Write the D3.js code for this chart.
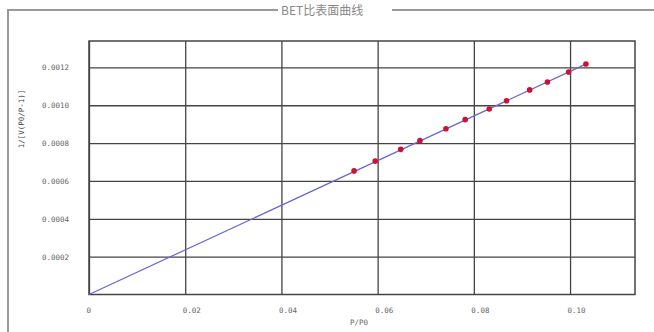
<!DOCTYPE html>
<html>
<head>
<meta charset="utf-8">
<script src="https://cdn.jsdelivr.net/npm/d3@7"></script>
<style>
  body { margin: 0; background: #fff; }
  svg { display: block; }
</style>
</head>
<body>
<script>
// measured points (P/P0 vs 1/[V(P0/P-1)])
var pRatio = [0.0551, 0.0595, 0.0648, 0.0688, 0.0742, 0.0782, 0.0832, 0.0868, 0.0916, 0.0953, 0.0997, 0.1033];
var betValue = [0.000653, 0.000705, 0.000767, 0.000813, 0.000876, 0.000924, 0.000980, 0.001024, 0.001081, 0.001123, 0.001176, 0.001218];

// fitted line end points
var fitX = [0, 0.1035];
var fitY = [0, 0.00122];

var xTicks = [0, 0.02, 0.04, 0.06, 0.08, 0.10];
var xTickLabels = ['0', '0.02', '0.04', '0.06', '0.08', '0.10'];
var yTicks = [0.0002, 0.0004, 0.0006, 0.0008, 0.0010, 0.0012];
var yTickLabels = ['0.0002', '0.0004', '0.0006', '0.0008', '0.0010', '0.0012'];

var title = 'BET比表面曲线';
var xTitle = 'P/P0';
var yTitle = '1/[V(P0/P-1)]';

var W = 654, H = 332;
var margin = {left: 89, top: 41, right: 19, bottom: 37.5};
var pw = W - margin.left - margin.right;
var ph = H - margin.top - margin.bottom;

var svg = d3.select('body').append('svg').attr('width', W).attr('height', H);

// group box frame
svg.append('path')
   .attr('d', 'M8,' + H + 'V10H278M392,10H' + W)
   .attr('fill', 'none')
   .attr('stroke', '#999')
   .attr('stroke-width', 2);

svg.append('text')
   .attr('x', 281).attr('y', 15)
   .attr('font-family', 'Noto Sans CJK SC')
   .attr('font-size', 12)
   .attr('fill', '#888')
   .text(title);

var g = svg.append('g').attr('transform', 'translate(' + margin.left + ',' + margin.top + ')');

var x = d3.scaleLinear().domain([0, 0.1135]).range([0, pw]);
var y = d3.scaleLinear().domain([0, 0.0013395]).range([ph, 0]);

var tickFont = 'DejaVu Sans Mono';

// vertical grid + bottom labels
var xAxis = g.append('g')
   .attr('transform', 'translate(0,' + ph + ')')
   .call(d3.axisBottom(x).tickValues(xTicks).tickSize(-ph)
      .tickFormat(function (d, i) { return xTickLabels[i]; }));
xAxis.select('.domain').remove();
xAxis.selectAll('line').attr('stroke', '#444').attr('stroke-width', 1.3);
xAxis.selectAll('text')
   .attr('text-anchor', 'start')
   .attr('x', -3).attr('y', 13)
   .attr('font-family', tickFont).attr('font-size', 7.5).attr('fill', '#666');

// horizontal grid + left labels
var yAxis = g.append('g')
   .call(d3.axisLeft(y).tickValues(yTicks).tickSize(-pw)
      .tickFormat(function (d, i) { return yTickLabels[i]; }));
yAxis.select('.domain').remove();
yAxis.selectAll('line').attr('stroke', '#444').attr('stroke-width', 1.3);
yAxis.selectAll('text')
   .attr('x', -20)
   .attr('font-family', tickFont).attr('font-size', 7.5).attr('fill', '#666');

// plot border
g.append('rect')
   .attr('width', pw).attr('height', ph)
   .attr('fill', 'none')
   .attr('stroke', '#444')
   .attr('stroke-width', 1.5);

// fit line
var fit = fitX.map(function (d, i) { return [d, fitY[i]]; });
g.append('path')
   .datum(fit)
   .attr('d', d3.line().x(function (d) { return x(d[0]); }).y(function (d) { return y(d[1]); }))
   .attr('fill', 'none')
   .attr('stroke', '#6666d6')
   .attr('stroke-width', 1.2);

// points
g.selectAll('circle.pt')
   .data(pRatio)
   .enter()
   .append('circle')
   .attr('class', 'pt')
   .attr('cx', function (d) { return x(d); })
   .attr('cy', function (d, i) { return y(betValue[i]); })
   .attr('r', 2.8)
   .attr('fill', '#cc1133');

// axis titles
svg.append('text')
   .attr('x', 359).attr('y', 325)
   .attr('text-anchor', 'middle')
   .attr('font-family', tickFont).attr('font-size', 7.5).attr('fill', '#666')
   .text(xTitle);

svg.append('text')
   .attr('transform', 'translate(24,119) rotate(-90)')
   .attr('text-anchor', 'middle')
   .attr('font-family', tickFont).attr('font-size', 7.5).attr('fill', '#444')
   .text(yTitle);
</script>
</body>
</html>
